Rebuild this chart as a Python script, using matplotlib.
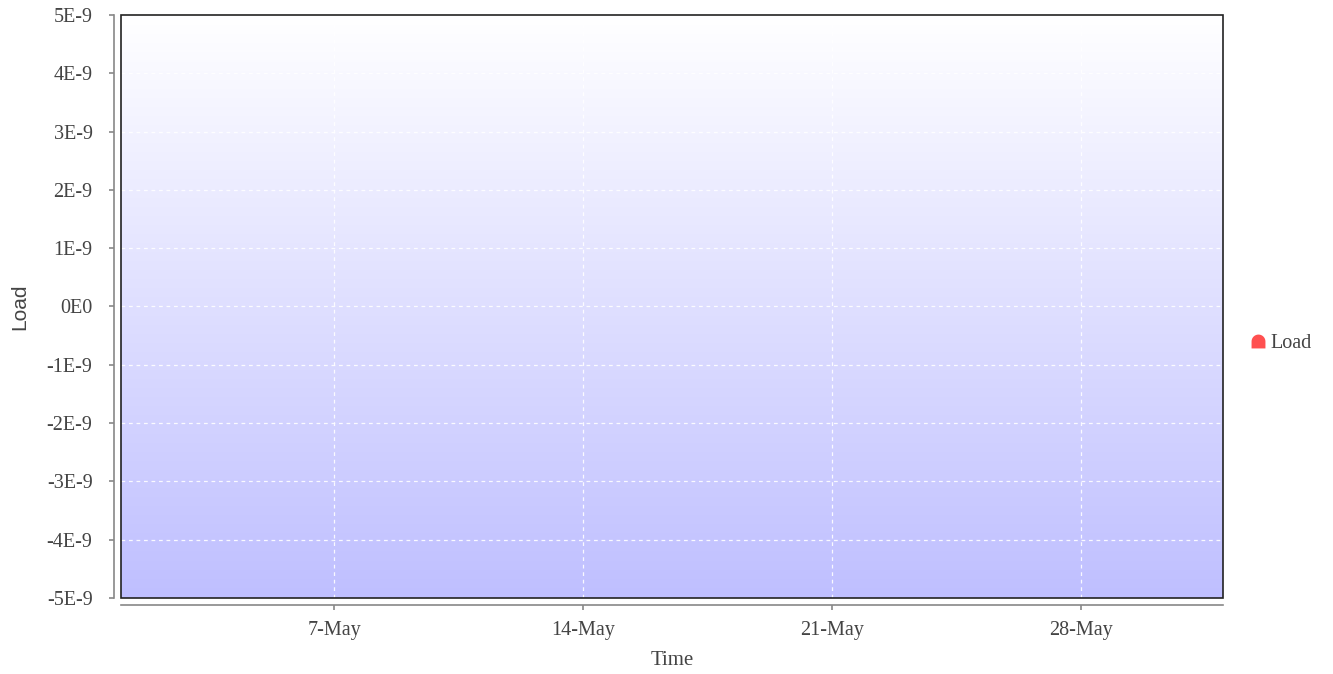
import numpy as np
import matplotlib
matplotlib.use("Agg")
import matplotlib.pyplot as plt
import matplotlib.dates as mdates
from matplotlib.path import Path
from matplotlib.patches import Rectangle
from matplotlib.ticker import FuncFormatter, MultipleLocator
from datetime import datetime

# Series "Load" has no points in the reference
load_dates = []
load_values = []
series_name = "Load"

x_start = datetime(2015, 5, 1)
x_end = datetime(2015, 6, 1)
x_ticks = [datetime(2015, 5, 7), datetime(2015, 5, 14),
           datetime(2015, 5, 21), datetime(2015, 5, 28)]
y_min, y_max, y_step = -5e-9, 5e-9, 1e-9

TEXT = "#444444"
AXIS = "#888888"
SERIF = ["Liberation Serif", "DejaVu Serif"]
SANS = ["Liberation Sans", "DejaVu Sans"]
W, H = 1333, 674

fig = plt.figure(figsize=(W / 100, H / 100), dpi=100)
ax = fig.add_axes([121 / W, 76 / H, 1102 / W, 583 / H])

# gradient background: white at top -> pale blue at bottom
grad = np.linspace(0, 1, 256).reshape(-1, 1)
top = np.array([1.0, 1.0, 1.0])
bottom = np.array([191, 191, 255]) / 255
img = (top + (bottom - top) * grad[..., None]).reshape(256, 1, 3)
ax.imshow(img, extent=[0, 1, 0, 1], transform=ax.transAxes,
          aspect="auto", zorder=0, interpolation="bilinear")

ax.plot(load_dates, load_values, color="#ff5050", label=series_name)

ax.set_xlim(x_start, x_end)
ax.set_ylim(y_min, y_max)
ax.set_xticks(x_ticks)
ax.xaxis.set_major_formatter(mdates.DateFormatter("%-d-%b"))
ax.yaxis.set_major_locator(MultipleLocator(y_step))


def fmt_y(v, pos):
    n = int(round(v / 1e-9))
    return "0E0" if n == 0 else f"{n}E-9"


ax.yaxis.set_major_formatter(FuncFormatter(fmt_y))

ax.grid(True, color="white", linestyle=(0, (3, 3)), linewidth=0.9, alpha=0.9)

for s in ["top", "right"]:
    ax.spines[s].set_visible(False)
for s in ["left", "bottom"]:
    ax.spines[s].set_position(("outward", 5))
    ax.spines[s].set_color(AXIS)
    ax.spines[s].set_linewidth(1.2)

# plot frame
ax.add_patch(Rectangle((0, 0), 1, 1, transform=ax.transAxes, fill=False,
                       edgecolor="#222222", linewidth=1.2, zorder=5,
                       clip_on=False))

ax.tick_params(axis="both", colors=AXIS, length=3.5, width=1.2,
               labelcolor=TEXT, labelsize=14.5)
for lbl in ax.get_xticklabels() + ax.get_yticklabels():
    lbl.set_family(SERIF)
ax.tick_params(axis="x", pad=8)
ax.tick_params(axis="y", pad=12)

ax.set_xlabel("Time", family=SERIF, fontsize=15, color=TEXT, labelpad=8)
fig.text(20 / W, 1 - 307 / H, "Load", rotation=90, ha="center", va="center",
         fontsize=15, color=TEXT, family=SANS)

# legend marker: rounded-top bell shape
theta = np.linspace(0, np.pi, 20)
verts = [(-1, -1), (1, -1), (1, 0)]
verts += [(np.cos(t), np.sin(t)) for t in theta]
verts += [(-1, -1)]
bell = Path(verts)
handle, = ax.plot([], [], linestyle="none", marker=bell, markersize=10,
                  color="#ff5050", markeredgewidth=0)
fig.legend([handle], [series_name], loc="center left",
           bbox_to_anchor=(1228 / W, 1 - 343 / H), frameon=False,
           prop={"family": SERIF, "size": 14.5}, labelcolor=TEXT,
           handletextpad=0.0, handlelength=1.2)

fig.savefig("out.png", dpi=100)
